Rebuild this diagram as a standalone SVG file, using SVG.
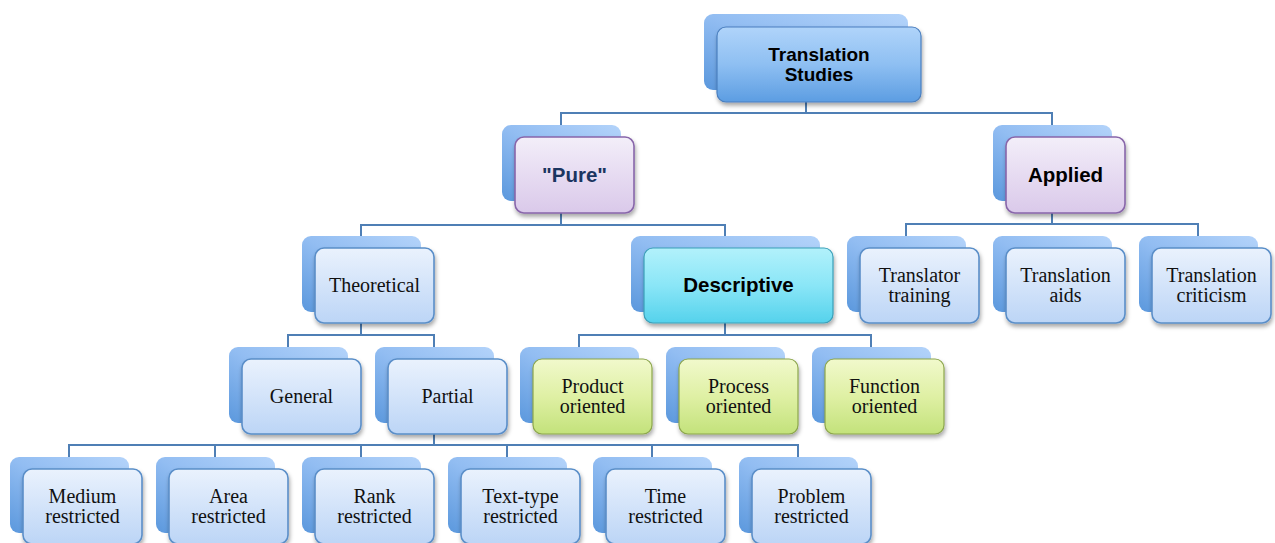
<svg xmlns="http://www.w3.org/2000/svg" width="1275" height="543" viewBox="0 0 1275 543">
<defs>
<linearGradient id="gBack" x1="1" y1="0" x2="0" y2="1">
<stop offset="0" stop-color="#b3d3fa"/>
<stop offset="0.5" stop-color="#92bdf2"/>
<stop offset="1" stop-color="#5b98dd"/>
</linearGradient>
<linearGradient id="gFront" x1="0" y1="0" x2="0" y2="1">
<stop offset="0" stop-color="#eaf2fd"/>
<stop offset="1" stop-color="#bcd5f6"/>
</linearGradient>
<linearGradient id="gRoot" x1="0" y1="0" x2="0" y2="1">
<stop offset="0" stop-color="#b0d4fa"/>
<stop offset="0.5" stop-color="#8ebff2"/>
<stop offset="1" stop-color="#5c9de2"/>
</linearGradient>
<linearGradient id="gPurple" x1="0" y1="0" x2="0" y2="1">
<stop offset="0" stop-color="#f3eef9"/>
<stop offset="1" stop-color="#dac9ea"/>
</linearGradient>
<linearGradient id="gCyan" x1="0" y1="0" x2="0" y2="1">
<stop offset="0" stop-color="#b2f1fb"/>
<stop offset="0.5" stop-color="#8ae6f7"/>
<stop offset="1" stop-color="#55d2ec"/>
</linearGradient>
<linearGradient id="gGreen" x1="0" y1="0" x2="0" y2="1">
<stop offset="0" stop-color="#f1f9cc"/>
<stop offset="0.5" stop-color="#dff0a4"/>
<stop offset="1" stop-color="#c3e27b"/>
</linearGradient>
<filter id="sh" x="-10%" y="-10%" width="125%" height="130%">
<feDropShadow dx="1" dy="3" stdDeviation="2" flood-color="#000" flood-opacity="0.35"/>
</filter>
</defs>
<style>
.back{fill:url(#gBack);}
.front{fill:url(#gFront);stroke:#5a8ec8;stroke-width:1.6;filter:url(#sh);}
.root{fill:url(#gRoot);stroke:#4a7fbf;stroke-width:1.2;filter:url(#sh);}
.purple{fill:url(#gPurple);stroke:#8866aa;stroke-width:1.6;filter:url(#sh);}
.cyan{fill:url(#gCyan);stroke:#3a9fb8;stroke-width:1.2;filter:url(#sh);}
.green{fill:url(#gGreen);stroke:#8ca64c;stroke-width:1.2;filter:url(#sh);}
.t{font-family:"Liberation Serif","Times New Roman",serif;font-size:20px;fill:#111;text-anchor:middle;}
.b{font-family:"Liberation Sans",Arial,sans-serif;font-size:20.5px;font-weight:bold;fill:#000;text-anchor:middle;}
.conn{fill:none;stroke:#4f7fb5;stroke-width:2;}
</style>
<g id="connectors" class="conn">
<path d="M806,102 V113 M561,125 V113 H1052 V125"/>
<path d="M561,213 V225 M361,236 V225 H725 V236"/>
<path d="M1052,213 V224 M906,236 V224 H1198 V236"/>
<path d="M361,323 V335 M288,347 V335 H434 V347"/>
<path d="M725,323 V335 M579,347 V335 H871 V347"/>
<path d="M434,434 V445 M69,457 V445 H798 V457 M215,445 V457 M361,445 V457 M507,445 V457 M652,445 V457"/>
</g>
<g id="n-root">
<rect class="back" x="704" y="14" width="204" height="76" rx="9"/>
<rect class="root" x="717" y="27" width="204" height="75" rx="9"/>
<text class="b" x="819" y="61" style="font-size:19px">Translation</text>
<text class="b" x="819" y="81" style="font-size:19px">Studies</text>
</g>
<g id="n-pure">
<rect class="back" x="502" y="125" width="119" height="76" rx="9"/>
<rect class="purple" x="515" y="137" width="119" height="76" rx="9"/>
<text class="b" x="574.5" y="182" style="fill:#1b3560">"Pure"</text>
</g>
<g id="n-applied">
<rect class="back" x="993" y="125" width="119" height="76" rx="9"/>
<rect class="purple" x="1006" y="137" width="119" height="76" rx="9"/>
<text class="b" x="1065.5" y="182">Applied</text>
</g>
<g id="n-theoretical">
<rect class="back" x="302" y="236" width="119" height="76" rx="9"/>
<rect class="front" x="315" y="248" width="119" height="75" rx="9"/>
<text class="t" x="374.5" y="292">Theoretical</text>
</g>
<g id="n-descriptive">
<rect class="back" x="631" y="236" width="189" height="76" rx="9"/>
<rect class="cyan" x="644" y="248" width="189" height="75" rx="9"/>
<text class="b" x="738.5" y="292">Descriptive</text>
</g>
<g id="n-training">
<rect class="back" x="847" y="236" width="119" height="76" rx="9"/>
<rect class="front" x="860" y="248" width="119" height="75" rx="9"/>
<text class="t" x="919.5" y="282">Translator</text>
<text class="t" x="919.5" y="302">training</text>
</g>
<g id="n-aids">
<rect class="back" x="993" y="236" width="119" height="76" rx="9"/>
<rect class="front" x="1006" y="248" width="119" height="75" rx="9"/>
<text class="t" x="1065.5" y="282">Translation</text>
<text class="t" x="1065.5" y="302">aids</text>
</g>
<g id="n-criticism">
<rect class="back" x="1139" y="236" width="119" height="76" rx="9"/>
<rect class="front" x="1152" y="248" width="119" height="75" rx="9"/>
<text class="t" x="1211.5" y="282">Translation</text>
<text class="t" x="1211.5" y="302">criticism</text>
</g>
<g id="n-general">
<rect class="back" x="229" y="347" width="119" height="76" rx="9"/>
<rect class="front" x="242" y="359" width="119" height="75" rx="9"/>
<text class="t" x="301.5" y="403">General</text>
</g>
<g id="n-partial">
<rect class="back" x="375" y="347" width="119" height="76" rx="9"/>
<rect class="front" x="388" y="359" width="119" height="75" rx="9"/>
<text class="t" x="447.5" y="403">Partial</text>
</g>
<g id="n-product">
<rect class="back" x="520" y="347" width="119" height="76" rx="9"/>
<rect class="green" x="533" y="359" width="119" height="75" rx="9"/>
<text class="t" x="592.5" y="393">Product</text>
<text class="t" x="592.5" y="413">oriented</text>
</g>
<g id="n-process">
<rect class="back" x="666" y="347" width="119" height="76" rx="9"/>
<rect class="green" x="679" y="359" width="119" height="75" rx="9"/>
<text class="t" x="738.5" y="393">Process</text>
<text class="t" x="738.5" y="413">oriented</text>
</g>
<g id="n-function">
<rect class="back" x="812" y="347" width="119" height="76" rx="9"/>
<rect class="green" x="825" y="359" width="119" height="75" rx="9"/>
<text class="t" x="884.5" y="393">Function</text>
<text class="t" x="884.5" y="413">oriented</text>
</g>
<g id="n-medium">
<rect class="back" x="10" y="457" width="119" height="76" rx="9"/>
<rect class="front" x="23" y="469" width="119" height="75" rx="9"/>
<text class="t" x="82.5" y="503">Medium</text>
<text class="t" x="82.5" y="523">restricted</text>
</g>
<g id="n-area">
<rect class="back" x="156" y="457" width="119" height="76" rx="9"/>
<rect class="front" x="169" y="469" width="119" height="75" rx="9"/>
<text class="t" x="228.5" y="503">Area</text>
<text class="t" x="228.5" y="523">restricted</text>
</g>
<g id="n-rank">
<rect class="back" x="302" y="457" width="119" height="76" rx="9"/>
<rect class="front" x="315" y="469" width="119" height="75" rx="9"/>
<text class="t" x="374.5" y="503">Rank</text>
<text class="t" x="374.5" y="523">restricted</text>
</g>
<g id="n-texttype">
<rect class="back" x="448" y="457" width="119" height="76" rx="9"/>
<rect class="front" x="461" y="469" width="119" height="75" rx="9"/>
<text class="t" x="520.5" y="503">Text-type</text>
<text class="t" x="520.5" y="523">restricted</text>
</g>
<g id="n-time">
<rect class="back" x="593" y="457" width="119" height="76" rx="9"/>
<rect class="front" x="606" y="469" width="119" height="75" rx="9"/>
<text class="t" x="665.5" y="503">Time</text>
<text class="t" x="665.5" y="523">restricted</text>
</g>
<g id="n-problem">
<rect class="back" x="739" y="457" width="119" height="76" rx="9"/>
<rect class="front" x="752" y="469" width="119" height="75" rx="9"/>
<text class="t" x="811.5" y="503">Problem</text>
<text class="t" x="811.5" y="523">restricted</text>
</g>
</svg>
